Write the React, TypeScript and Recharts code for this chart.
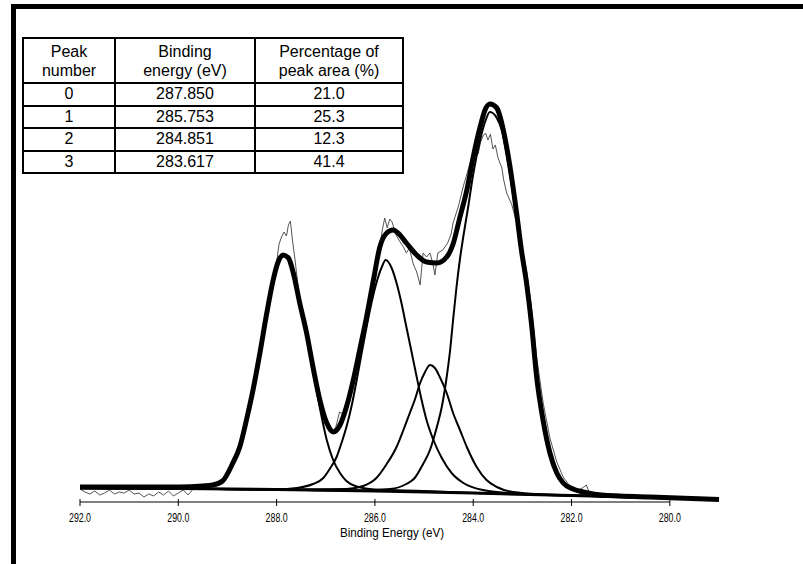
import React from 'react';
import { LineChart, Line, XAxis, YAxis, ReferenceLine } from 'recharts';

// XPS C1s spectrum, curve-fitted into four components (intensity in a.u.)
const axisTicks = [292, 290, 288, 286, 284, 282, 280];

const peakNumbers = ['0', '1', '2', '3'];
const bindingEnergies = ['287.850', '285.753', '284.851', '283.617'];
const areaPercents = ['21.0', '25.3', '12.3', '41.4'];

const bgE = [292, 290, 288, 286, 284, 282, 280, 279];
const bgI = [14, 13.5, 12.5, 11, 9, 6.5, 4, 2.5];

const envE = [292, 291, 290, 289.5, 289.3, 289.1, 288.9, 288.75, 288.6, 288.48, 288.34, 288.2, 288.07, 287.97, 287.87, 287.76, 287.66, 287.53, 287.39, 287.26, 287.12, 286.98, 286.85, 286.71, 286.58, 286.44, 286.31, 286.17, 286.03, 285.9, 285.76, 285.63, 285.49, 285.36, 285.15, 284.95, 284.74, 284.54, 284.41, 284.27, 284.13, 284, 283.86, 283.76, 283.66, 283.52, 283.42, 283.32, 283.22, 283.12, 283.02, 282.91, 282.81, 282.71, 282.58, 282.44, 282.3, 282.17, 281.97, 281.76, 281.4, 280.4, 279];
const envI = [15, 15, 15, 16, 17, 21, 38, 55, 85, 112, 149, 189, 222, 240, 247, 244, 229, 199, 169, 135, 102, 79, 70, 77, 95, 122, 152, 185, 222, 255, 269, 272, 267, 259, 247, 240, 239, 245, 258, 285, 312, 345, 375, 392, 398, 394, 379, 355, 325, 290, 252, 217, 176, 125, 82, 49, 29, 19, 13, 10, 7, 5, 2.5];

const p0E = [292, 290, 289.5, 289.3, 289.1, 288.9, 288.75, 288.6, 288.48, 288.34, 288.2, 288.07, 287.97, 287.87, 287.76, 287.66, 287.53, 287.39, 287.26, 287.12, 286.98, 286.85, 286.71, 286.58, 286.4, 286, 285, 284, 282, 280, 279];
const p0I = [14, 13.5, 15, 17, 21, 38, 55, 85, 112, 149, 189, 222, 240, 247, 244, 229, 199, 167, 131, 94, 62, 42, 29, 21, 16, 12.5, 11, 9, 6.5, 4, 2.5];

const p1E = [292, 290, 288, 287.59, 287.26, 287.05, 286.92, 286.78, 286.68, 286.58, 286.47, 286.37, 286.27, 286.17, 286.07, 285.97, 285.86, 285.78, 285.66, 285.56, 285.46, 285.36, 285.25, 285.15, 285.05, 284.95, 284.81, 284.64, 284.44, 284.2, 283.8, 283, 282, 280, 279];
const p1I = [14, 13.5, 12.5, 14, 18, 24, 33, 45, 59, 75, 97, 122, 149, 175, 199, 219, 235, 242, 234, 219, 199, 175, 149, 125, 102, 82, 62, 44, 29, 19, 12, 8, 6.5, 4, 2.5];

const p2E = [292, 290, 288, 286.58, 286.24, 285.97, 285.76, 285.56, 285.42, 285.29, 285.19, 285.08, 284.98, 284.88, 284.78, 284.68, 284.54, 284.41, 284.27, 284.13, 283.93, 283.73, 283.52, 283.19, 282.5, 282, 280, 279];
const p2I = [14, 13.5, 12.5, 13, 16, 24, 38, 55, 72, 89, 102, 119, 130, 137, 134, 125, 109, 89, 72, 55, 35, 22, 15, 10, 7.5, 6.5, 4, 2.5];

const p3E = [292, 290, 288, 286.24, 285.69, 285.36, 285.19, 285.02, 284.88, 284.74, 284.64, 284.54, 284.47, 284.41, 284.34, 284.27, 284.2, 284.1, 284, 283.86, 283.76, 283.66, 283.52, 283.42, 283.32, 283.22, 283.12, 283.02, 282.91, 282.81, 282.71, 282.58, 282.44, 282.3, 282.17, 281.97, 281.76, 281.4, 280.4, 279];
const p3I = [14, 13.5, 12.5, 11.5, 13, 18, 24, 38, 52, 75, 95, 125, 152, 182, 215, 243, 266, 296, 328, 362, 380, 390, 384, 372, 348, 318, 284, 247, 212, 172, 122, 80, 47, 28, 18, 12, 9, 6.5, 4.5, 2.5];

const rawE = [292, 291.9, 291.8, 291.7, 291.6, 291.5, 291.4, 291.3, 291.2, 291.1, 291, 290.9, 290.8, 290.7, 290.6, 290.5, 290.4, 290.3, 290.2, 290.1, 290, 289.9, 289.8, 289.7, 289.6, 289.4, 289.2, 289.1, 289, 288.9, 288.8, 288.7, 288.6, 288.5, 288.4, 288.3, 288.2, 288.1, 288, 287.95, 287.9, 287.85, 287.8, 287.76, 287.72, 287.68, 287.62, 287.55, 287.5, 287.4, 287.3, 287.2, 287.1, 287, 286.9, 286.85, 286.8, 286.72, 286.65, 286.58, 286.5, 286.4, 286.3, 286.2, 286.1, 286, 285.9, 285.85, 285.8, 285.75, 285.7, 285.65, 285.58, 285.5, 285.42, 285.36, 285.3, 285.22, 285.15, 285.08, 285.02, 284.95, 284.88, 284.82, 284.78, 284.72, 284.62, 284.52, 284.45, 284.41, 284.3, 284.2, 284.1, 284, 283.95, 283.9, 283.85, 283.8, 283.75, 283.7, 283.65, 283.6, 283.55, 283.5, 283.45, 283.42, 283.38, 283.32, 283.22, 283.12, 283.02, 282.91, 282.81, 282.71, 282.58, 282.44, 282.3, 282.17, 282.05, 281.95, 281.85, 281.75, 281.7, 281.65, 281.5, 281, 280.5, 280, 279.5, 279];
const rawI = [13, 10, 8, 11, 7, 9, 12, 8, 10, 9, 12, 8, 9, 5, 8, 6, 10, 7, 11, 6, 9, 12, 7, 13, 15, 16, 18, 22, 28, 39, 50, 66, 86, 108, 133, 163, 192, 218, 240, 258, 265, 270, 266, 277, 281, 263, 240, 210, 192, 168, 142, 117, 98, 84, 76, 72, 74, 90, 88, 96, 110, 131, 155, 180, 205, 232, 255, 272, 284, 274, 283, 280, 268, 261, 255, 249, 254, 238, 230, 217, 249, 245, 249, 238, 227, 249, 252, 259, 268, 279, 296, 316, 333, 350, 352, 348, 360, 366, 369, 362, 368, 353, 357, 345, 338, 335, 322, 309, 298, 280, 258, 230, 192, 145, 100, 64, 40, 25, 17, 14, 12, 15, 17, 11, 9, 7, 6, 4, 3, 2];

const toPoints = (es: number[], vs: number[]) => es.map((e, i) => ({ e, v: vs[i] }));

const axisFont = "'Liberation Sans', Arial, sans-serif";

const AxisTick = (props: any) => {
    const { x, y, payload } = props;
    return (
        <g>
            <line x1={x} x2={x} y1={y - 3} y2={y + 4} stroke="#000" />
            <text
                x={x}
                y={y + 20}
                textAnchor="middle"
                fontSize={12}
                fontFamily={axisFont}
                fill="#000"
                textLength={22}
                lengthAdjust="spacingAndGlyphs"
            >
                {Number(payload.value).toFixed(1)}
            </text>
        </g>
    );
};

const cell: React.CSSProperties = {
    border: '2px solid #000',
    padding: 0,
    textAlign: 'center',
    verticalAlign: 'middle',
};

const PeakTable = () => (
    <table
        style={{
            position: 'absolute',
            left: 22,
            top: 37,
            width: 380,
            borderCollapse: 'collapse',
            fontFamily: "'Liberation Sans', Arial, sans-serif",
            fontSize: 16,
            background: '#fff',
            tableLayout: 'fixed',
        }}
    >
        <colgroup>
            <col style={{ width: 92 }} />
            <col style={{ width: 140 }} />
            <col style={{ width: 148 }} />
        </colgroup>
        <tbody>
            <tr style={{ height: 45, lineHeight: '19px' }}>
                <td style={cell}>Peak<br />number</td>
                <td style={cell}>Binding<br />energy (eV)</td>
                <td style={cell}>Percentage of<br />peak area (%)</td>
            </tr>
            {peakNumbers.map((p, i) => (
                <tr key={p} style={{ height: 22.5, lineHeight: '18px' }}>
                    <td style={cell}>{p}</td>
                    <td style={cell}>{bindingEnergies[i]}</td>
                    <td style={cell}>{areaPercents[i]}</td>
                </tr>
            ))}
        </tbody>
    </table>
);

export default function App() {
    return (
        <div style={{ position: 'absolute', left: 0, top: 0, width: 803, height: 564, background: '#fff', overflow: 'hidden' }}>
            {/* frame: thick top and left edges */}
            <div
                style={{
                    position: 'absolute',
                    left: 11,
                    top: 4,
                    width: 792,
                    height: 560,
                    borderTop: '5px solid #000',
                    borderLeft: '5px solid #000',
                    boxSizing: 'border-box',
                }}
            />
            <div style={{ position: 'absolute', left: 0, top: 0 }}>
                <LineChart width={803} height={564} margin={{ top: 2, right: 84, bottom: 22, left: 80 }}>
                    <XAxis
                        dataKey="e"
                        type="number"
                        domain={[279, 292]}
                        reversed
                        ticks={axisTicks}
                        interval={0}
                        height={40}
                        axisLine={false}
                        tickLine={false}
                        tickSize={0}
                        tickMargin={0}
                        tick={<AxisTick />}
                        label={{
                            value: 'Binding Energy (eV)',
                            content: () => (
                                <text
                                    x={392}
                                    y={537}
                                    textAnchor="middle"
                                    fontSize={13}
                                    fontFamily={axisFont}
                                    fill="#000"
                                    textLength={104}
                                    lengthAdjust="spacingAndGlyphs"
                                >
                                    Binding Energy (eV)
                                </text>
                            ),
                        }}
                    />
                    <YAxis hide type="number" domain={[0, 500]} />
                    <ReferenceLine
                        segment={[{ x: 292, y: 0 }, { x: 280, y: 0 }]}
                        stroke="#000"
                        strokeWidth={1}
                    />
                    <Line data={toPoints(rawE, rawI)} dataKey="v" type="linear" stroke="#555" strokeWidth={1} dot={false} activeDot={false} isAnimationActive={false} />
                    <Line data={toPoints(bgE, bgI)} dataKey="v" type="linear" stroke="#000" strokeWidth={3} dot={false} activeDot={false} isAnimationActive={false} />
                    <Line data={toPoints(p0E, p0I)} dataKey="v" type="monotone" stroke="#000" strokeWidth={2} dot={false} activeDot={false} isAnimationActive={false} />
                    <Line data={toPoints(p1E, p1I)} dataKey="v" type="monotone" stroke="#000" strokeWidth={2} dot={false} activeDot={false} isAnimationActive={false} />
                    <Line data={toPoints(p2E, p2I)} dataKey="v" type="monotone" stroke="#000" strokeWidth={2} dot={false} activeDot={false} isAnimationActive={false} />
                    <Line data={toPoints(p3E, p3I)} dataKey="v" type="monotone" stroke="#000" strokeWidth={2} dot={false} activeDot={false} isAnimationActive={false} />
                    <Line data={toPoints(envE, envI)} dataKey="v" type="monotone" stroke="#000" strokeWidth={5} dot={false} activeDot={false} isAnimationActive={false} />
                </LineChart>
            </div>
            <PeakTable />
        </div>
    );
}
